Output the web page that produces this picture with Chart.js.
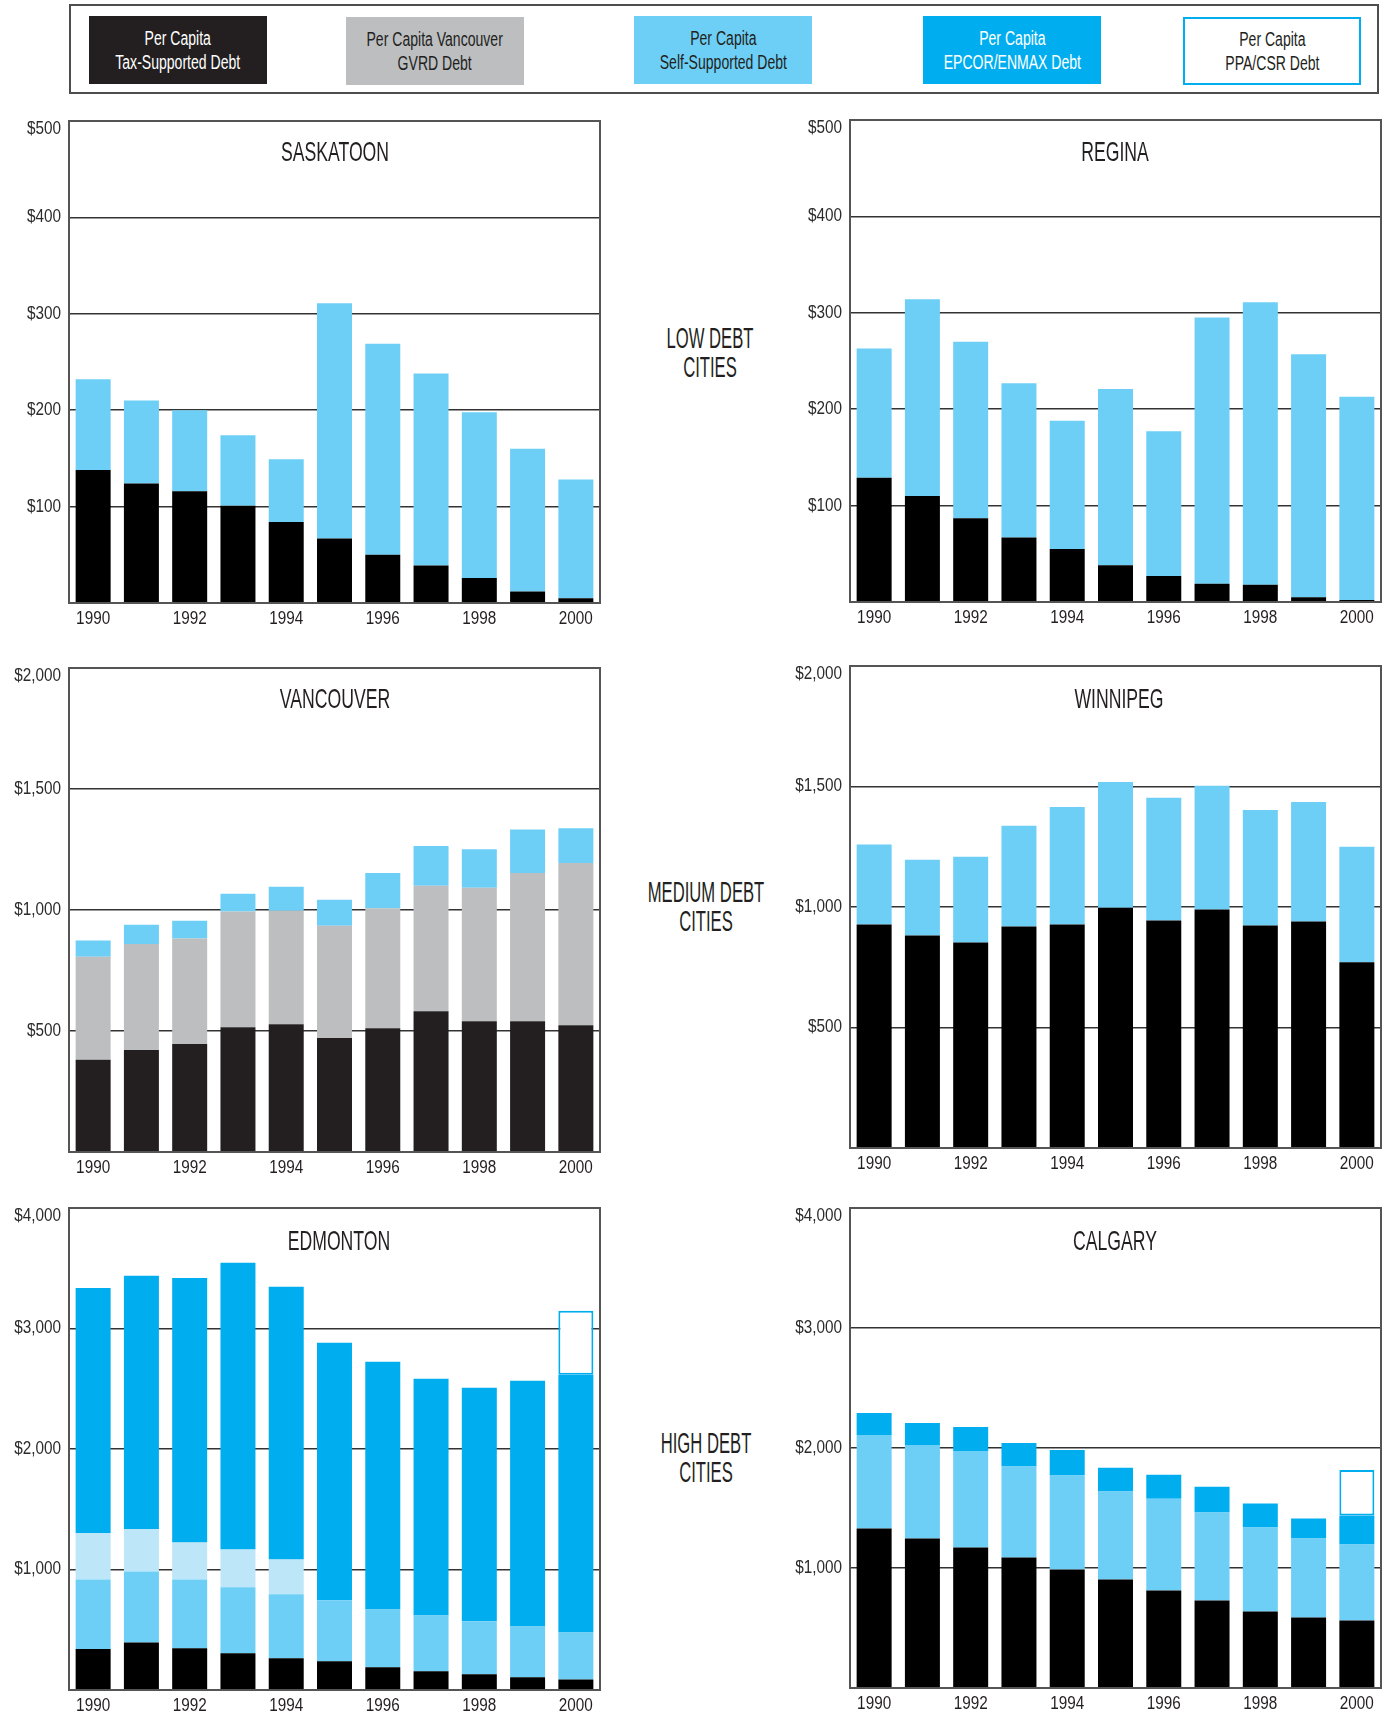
<!DOCTYPE html>
<html>
<head>
<meta charset="utf-8">
<title>Per Capita Debt, Western Canadian Cities, 1990-2000</title>
<script src="https://cdn.jsdelivr.net/npm/chart.js@4.4.1/dist/chart.umd.min.js"></script>
<style>
  html, body { margin: 0; padding: 0; background: #fff; }
  body {
    width: 1392px; height: 1718px; position: relative; overflow: hidden;
    font-family: 'Liberation Sans', Arial, sans-serif;
    color: #231f20;
  }
  .abs { position: absolute; }
  .legend-frame { left: 69px; top: 4px; width: 1310px; height: 90px; border: 2px solid #4d4d4d; box-sizing: border-box; }
  .key { width: 178px; height: 68px; box-sizing: border-box; display: flex; align-items: center; justify-content: center; text-align: center; }
  .key span { display: block; font-size: 19.5px; line-height: 24px; transform: scaleX(0.72); white-space: nowrap; }
  .k-tax { background: #231f20; color: #fff; }
  .k-gvrd { background: #bcbec0; color: #231f20; }
  .k-self { background: #6dcff6; color: #231f20; }
  .k-epcor { background: #00aeef; color: #fff; }
  .k-ppa { background: #fff; border: 2px solid #00aeef; color: #231f20; }
  .city { width: 300px; text-align: center; font-size: 28px; line-height: 28px; transform: scaleX(0.63); white-space: nowrap; z-index: 2; }
  .group { width: 240px; text-align: center; font-size: 30px; line-height: 29px; transform: scaleX(0.555); white-space: nowrap; }
  canvas { position: absolute; }
</style>
</head>
<body>

<!-- shared legend -->
<div class="abs legend-frame"></div>
<div class="abs key k-tax"   style="left:89px;top:16px;"><span>Per Capita<br>Tax-Supported Debt</span></div>
<div class="abs key k-gvrd"  style="left:346px;top:17px;"><span>Per Capita Vancouver<br>GVRD Debt</span></div>
<div class="abs key k-self"  style="left:634px;top:16px;"><span>Per Capita<br>Self-Supported Debt</span></div>
<div class="abs key k-epcor" style="left:923px;top:16px;"><span>Per Capita<br>EPCOR/ENMAX Debt</span></div>
<div class="abs key k-ppa"   style="left:1183px;top:17px;"><span>Per Capita<br>PPA/CSR Debt</span></div>

<!-- group labels between the columns -->
<div class="abs group" style="left:590px;top:323px;">LOW DEBT<br>CITIES</div>
<div class="abs group" style="left:586px;top:877px;">MEDIUM DEBT<br>CITIES</div>
<div class="abs group" style="left:586px;top:1428px;">HIGH DEBT<br>CITIES</div>

<!-- city names inside each plot -->
<div class="abs city" style="left:185px;top:138px;">SASKATOON</div>
<div class="abs city" style="left:965px;top:138px;">REGINA</div>
<div class="abs city" style="left:185px;top:685px;">VANCOUVER</div>
<div class="abs city" style="left:969px;top:685px;">WINNIPEG</div>
<div class="abs city" style="left:189px;top:1227px;">EDMONTON</div>
<div class="abs city" style="left:965px;top:1227px;">CALGARY</div>

<canvas id="saskatoon"></canvas>
<canvas id="regina"></canvas>
<canvas id="vancouver"></canvas>
<canvas id="winnipeg"></canvas>
<canvas id="edmonton"></canvas>
<canvas id="calgary"></canvas>

<script>
// ---- categories and tick labels ----
const years = ['1990', '1991', '1992', '1993', '1994', '1995', '1996', '1997', '1998', '1999', '2000'];
const yearLabels = ['1990', '', '1992', '', '1994', '', '1996', '', '1998', '', '2000'];
// the top label of each axis hangs just below its line
const lowDebtTicks = ['', '$100', '$200', '$300', '$400', ['', '$500']];
const mediumDebtTicks = ['', '$500', '$1,000', '$1,500', ['', '$2,000']];
const highDebtTicks = ['', '$1,000', '$2,000', '$3,000', ['', '$4,000']];

// ---- per capita debt, dollars ----
const saskatoonTax  = [138, 124, 116, 101, 84, 67, 50, 39, 26, 12, 5];
const saskatoonSelf = [94, 86, 84, 73, 65, 244, 219, 199, 172, 148, 123];

const reginaTax  = [129, 110, 87, 67, 55, 38, 27, 19, 18, 5, 2];
const reginaSelf = [134, 204, 183, 160, 133, 183, 150, 276, 293, 252, 211];

const vancouverTax  = [381, 421, 446, 515, 528, 471, 511, 582, 540, 540, 524];
const vancouverGvrd = [426, 439, 436, 479, 469, 464, 496, 518, 552, 613, 670];
const vancouverSelf = [67, 79, 74, 73, 99, 107, 146, 164, 159, 180, 144];

const winnipegTax  = [927, 882, 853, 919, 927, 997, 944, 990, 923, 940, 771];
const winnipegSelf = [332, 314, 355, 418, 488, 522, 509, 513, 480, 496, 479];

const edmontonTax   = [340, 395, 346, 304, 263, 238, 188, 155, 130, 105, 88];
const edmontonSelf  = [578, 589, 572, 548, 531, 506, 481, 464, 440, 423, 390];
const edmontonOther = [382, 349, 307, 315, 290, null, null, null, null, null, null];
const edmontonEpcor = [2037, 2104, 2195, 2378, 2262, 2137, 2055, 1964, 1938, 2038, 2138];
const edmontonPpa   = [null, null, null, null, null, null, null, null, null, null, 531];

const calgaryTax   = [1329, 1246, 1171, 1087, 988, 904, 813, 730, 638, 588, 563];
const calgarySelf  = [779, 779, 804, 758, 782, 733, 765, 732, 699, 658, 633];
const calgaryEpcor = [183, 183, 200, 197, 213, 199, 200, 216, 200, 166, 241];
const calgaryPpa   = [null, null, null, null, null, null, null, null, null, null, 380];

// ---- palette ----
const BLACK = '#000000';
const INK = '#231f20';
const GRAY = '#bcbec0';
const SKY = '#6dcff6';
const PALE = '#bde6f9';
const CYAN = '#00aeef';

const FONT = "'Liberation Sans', Arial, sans-serif";

// squeeze axis text horizontally to a condensed face
const condensed = {
  id: 'condensed',
  beforeDraw(chart) {
    const ctx = chart.ctx;
    if (ctx.__condensed) return;
    const fill = ctx.fillText.bind(ctx);
    ctx.fillText = (text, x, y, maxWidth) => {
      const w = ctx.measureText(text).width * 0.85;
      fill(text, x, y, maxWidth !== undefined ? Math.min(maxWidth, w) : w);
    };
    ctx.__condensed = true;
  }
};

// outline around the plotting area
const frame = {
  id: 'frame',
  afterDraw(chart) {
    const { ctx, chartArea: a } = chart;
    ctx.save();
    ctx.strokeStyle = '#555555';
    ctx.lineWidth = 2;
    ctx.strokeRect(a.left, a.top, a.right - a.left, a.bottom - a.top);
    ctx.restore();
  }
};

function series(label, data, color) {
  return { label, data, backgroundColor: color, borderWidth: 0 };
}
function outlined(label, data, color) {
  return { label, data, backgroundColor: '#ffffff', borderColor: color, borderWidth: 2, borderSkipped: false };
}

// box = canvas placement on the page; plot area sits 69px in from the left and 14px down
function cityChart(id, box, datasets, maxY, step, tickLabels) {
  const cv = document.getElementById(id);
  cv.width = box.w; cv.height = box.h;
  cv.style.left = box.x + 'px'; cv.style.top = box.y + 'px';
  return new Chart(cv, {
    type: 'bar',
    data: { labels: years, datasets },
    plugins: [condensed, frame],
    options: {
      responsive: false,
      animation: false,
      layout: { padding: { top: 14, right: 2, left: 0, bottom: 0 } },
      datasets: { bar: { categoryPercentage: 1, barPercentage: 0.725 } },
      plugins: { legend: { display: false }, tooltip: { enabled: false }, title: { display: false } },
      scales: {
        x: {
          stacked: true,
          offset: true,
          grid: { display: false, drawTicks: false },
          border: { display: false },
          afterFit: s => { s.height = 30; s.paddingLeft = 0; s.paddingRight = 0; },
          ticks: {
            autoSkip: false, maxRotation: 0, padding: 5,
            color: '#231f20', font: { family: FONT, size: 18 },
            callback: (v, i) => yearLabels[i]
          }
        },
        y: {
          stacked: true,
          min: 0, max: maxY,
          afterFit: s => { s.width = 69; s.paddingTop = 0; s.paddingBottom = 0; },
          grid: { color: '#333333', lineWidth: 1.5, drawTicks: false },
          border: { display: false },
          ticks: {
            stepSize: step, padding: 8,
            color: '#2b2b2b', font: { family: FONT, size: 18, lineHeight: 0.9 },
            callback: (v, i) => tickLabels[i]
          }
        }
      }
    }
  });
}

cityChart('saskatoon', { x: 0, y: 107, w: 602, h: 526 }, [
  series('Per Capita Tax-Supported Debt', saskatoonTax, BLACK),
  series('Per Capita Self-Supported Debt', saskatoonSelf, SKY)
], 500, 100, lowDebtTicks);

cityChart('regina', { x: 781, y: 106, w: 602, h: 526 }, [
  series('Per Capita Tax-Supported Debt', reginaTax, BLACK),
  series('Per Capita Self-Supported Debt', reginaSelf, SKY)
], 500, 100, lowDebtTicks);

cityChart('vancouver', { x: 0, y: 654, w: 602, h: 528 }, [
  series('Per Capita Tax-Supported Debt', vancouverTax, INK),
  series('Per Capita Vancouver GVRD Debt', vancouverGvrd, GRAY),
  series('Per Capita Self-Supported Debt', vancouverSelf, SKY)
], 2000, 500, mediumDebtTicks);

cityChart('winnipeg', { x: 781, y: 652, w: 602, h: 526 }, [
  series('Per Capita Tax-Supported Debt', winnipegTax, BLACK),
  series('Per Capita Self-Supported Debt', winnipegSelf, SKY)
], 2000, 500, mediumDebtTicks);

cityChart('edmonton', { x: 0, y: 1194, w: 602, h: 526 }, [
  series('Per Capita Tax-Supported Debt', edmontonTax, BLACK),
  series('Per Capita Self-Supported Debt', edmontonSelf, SKY),
  series('Other Debt', edmontonOther, PALE),
  series('Per Capita EPCOR/ENMAX Debt', edmontonEpcor, CYAN),
  outlined('Per Capita PPA/CSR Debt', edmontonPpa, CYAN)
], 4000, 1000, highDebtTicks);

cityChart('calgary', { x: 781, y: 1194, w: 602, h: 524 }, [
  series('Per Capita Tax-Supported Debt', calgaryTax, BLACK),
  series('Per Capita Self-Supported Debt', calgarySelf, SKY),
  series('Per Capita EPCOR/ENMAX Debt', calgaryEpcor, CYAN),
  outlined('Per Capita PPA/CSR Debt', calgaryPpa, CYAN)
], 4000, 1000, highDebtTicks);
</script>
</body>
</html>
